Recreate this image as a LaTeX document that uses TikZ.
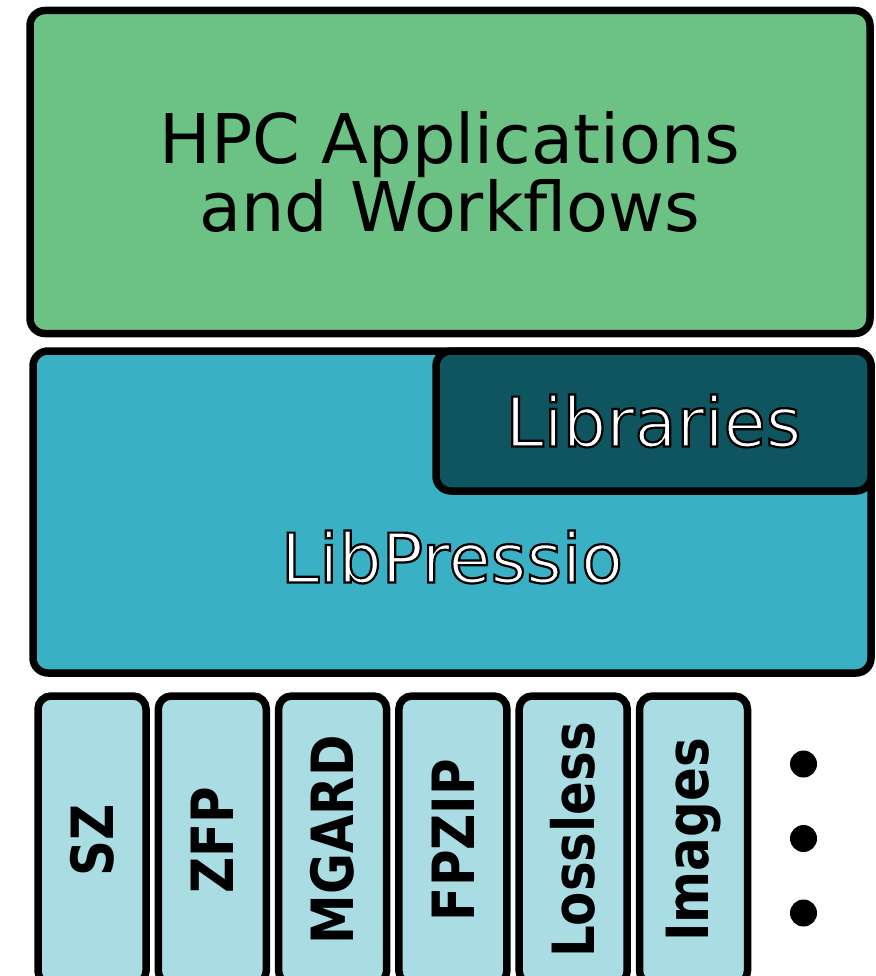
\documentclass[tikz,border=0pt]{standalone}
\usepackage{fontspec}
\setmainfont{DejaVu Sans}
\usepackage{xcolor}
\definecolor{appgreen}{HTML}{6CC284}
\definecolor{pressioblue}{HTML}{3AB0C4}
\definecolor{libteal}{HTML}{0E5560}
\definecolor{algblue}{HTML}{AADDE3}
% white letters with a thin black rim (fill and stroke text render mode)
\newcommand{\rimtext}[1]{\special{pdf:literal direct 0 0 0 RG 2.2 w 2 Tr}#1\special{pdf:literal direct 0 Tr}}

\begin{document}
\begin{tikzpicture}[x=1pt, y=-1pt,
  layer/.style={draw=black, line width=7.5pt, rounded corners=15pt, inner sep=0pt},
  bigtext/.style={font=\fontsize{68.5}{65.5}\selectfont},
  outlined/.style={bigtext, text=white},
  algbox/.style={layer, fill=algblue, rotate=90, minimum width=288pt, minimum height=108pt,
    rounded corners=13pt, font=\bfseries\fontsize{52}{52}\selectfont},
  dot/.style={circle, fill=black, minimum size=27pt, inner sep=0pt}]
\clip (0,0) rectangle (875,976);

\node[layer, bigtext, fill=appgreen, minimum width=840pt, minimum height=323pt, align=center]
  (apps) at (450,172) {HPC Applications\\and Workflows};

\node[layer, fill=pressioblue, minimum width=838pt, minimum height=322pt] (libpressio) at (452,512) {};
\node[layer, outlined, fill=libteal, minimum width=435pt, minimum height=140pt]
  (libraries) at (653.5,421) {\rimtext{Libraries}};
\node[outlined] (pressiolabel) at (452,557) {\rimtext{LibPressio}};

% compressor plugins
\foreach \name/\txt [count=\i from 0] in {sz/SZ, zfp/ZFP, mgard/MGARD, fpzip/FPZIP, lossless/Lossless, images/Images}
  \node[algbox] (\name) at (92+120.3*\i, 840) {\scalebox{0.96}[1.12]{\txt}};

\foreach \k in {0,1,2}
  \node[dot] (dot\k) at (803.5, 764+74.5*\k) {};
\end{tikzpicture}
\end{document}
